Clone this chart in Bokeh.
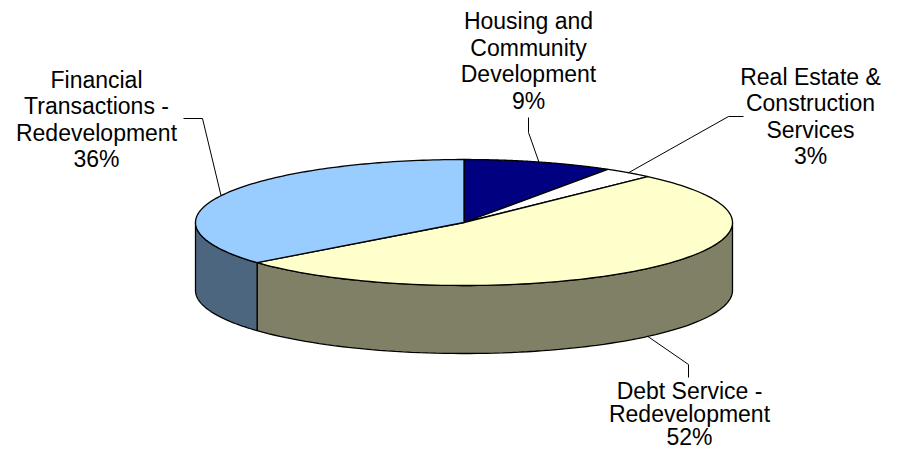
import numpy as np
from bokeh.plotting import figure
from bokeh.models import Range1d
from bokeh.core.properties import value
from bokeh.embed import file_html
from bokeh.resources import INLINE

# ---- data ----
categories = ["Housing and Community Development",
              "Real Estate & Construction Services",
              "Debt Service - Redevelopment",
              "Financial Transactions - Redevelopment"]
values = [9, 3, 52, 36]
label_lines = [["Housing and", "Community", "Development"],
               ["Real Estate &", "Construction", "Services"],
               ["Debt Service -", "Redevelopment"],
               ["Financial", "Transactions -", "Redevelopment"]]
top_colors = ["#000080", "#FFFFFF", "#FFFFCC", "#99CCFF"]
side_colors = ["#000040", "#808080", "#808066", "#4D6680"]

# ---- layout ----
CX, CY, RX, RY, DEPTH = 463.5, 222.0, 268.5, 63.0, 68.0
FONT = "Liberation Sans"
FS = "23px"
TXT_DY = -7.0   # renderer draws alphabetic baseline slightly low
# label block: (center x, first baseline y, line spacing), elbow, end of leader
label_pos = [(528, 27.5, 26.5), (810, 83, 26.5), (689, 397, 23.0), (96, 86, 26.5)]
leader_mid = [(528, 132), (728, 116), (688, 364), (202, 118)]
leader_end = [(528, 117), (743, 116), (688, 377), (183, 118)]

p = figure(width=882, height=453, x_range=Range1d(0, 882), y_range=Range1d(453, 0),
           output_backend="svg", toolbar_location=None, min_border=0)
p.axis.visible = False
p.grid.visible = False
p.outline_line_color = None
p.background_fill_color = "white"

def pt(theta_deg, dy=0.0):
    t = np.radians(theta_deg)
    return CX + RX * np.cos(t), CY - RY * np.sin(t) + dy

total = float(sum(values))
starts, ends = [], []
a = 90.0
for v in values:
    sweep = 360.0 * v / total
    starts.append(a)
    ends.append(a - sweep)
    a -= sweep

# side walls (visible lower half: angles in [-180, 0] modulo 360)
for s, e, col in zip(starts, ends, side_colors):
    for off in (0.0, -360.0, 360.0):
        lo = max(e + off, -180.0)
        hi = min(s + off, 0.0)
        if hi > lo:
            th = np.linspace(hi, lo, 80)
            xs_t, ys_t = pt(th)
            xs_b, ys_b = pt(th[::-1], DEPTH)
            p.patch(np.concatenate([xs_t, xs_b]), np.concatenate([ys_t, ys_b]),
                    fill_color=col, line_color="black", line_width=1.3)

# top face wedges
for s, e, col in zip(starts, ends, top_colors):
    th = np.linspace(s, e, 120)
    xs, ys = pt(th)
    p.patch(np.concatenate([[CX], xs]), np.concatenate([[CY], ys]),
            fill_color=col, line_color="black", line_width=1.3, line_join="round")

# leader lines and labels
for i, (s, e) in enumerate(zip(starts, ends)):
    mid = (s + e) / 2.0
    sx, sy = pt(mid)
    if np.sin(np.radians(mid)) < 0:
        sy += DEPTH
    p.line([sx, leader_mid[i][0], leader_end[i][0]],
           [sy, leader_mid[i][1], leader_end[i][1]],
           line_color="black", line_width=1)
    lines = label_lines[i] + ["%d%%" % round(100 * values[i] / total)]
    lx, ly, lh = label_pos[i]
    p.text(x=[lx] * len(lines), y=[ly + TXT_DY + k * lh for k in range(len(lines))], text=lines,
           text_font=value(FONT), text_font_size=FS, text_align="center",
           text_baseline="alphabetic", text_color="black")

open("out.html", "w").write(file_html(p, INLINE))
